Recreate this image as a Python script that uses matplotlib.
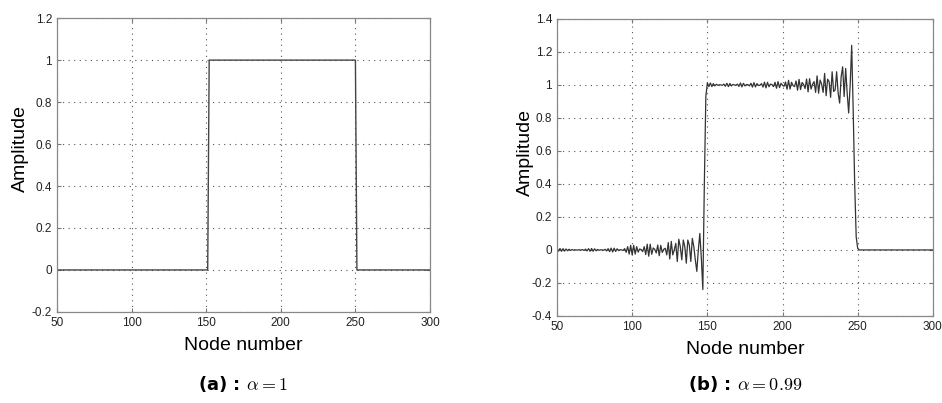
import matplotlib.pyplot as plt
from matplotlib.ticker import MultipleLocator

plt.rcParams['font.family'] = ['Liberation Sans', 'DejaVu Sans']
plt.rcParams['mathtext.fontset'] = 'cm'

# -------------------------------------------------------------------
# data
# -------------------------------------------------------------------
# (a) alpha = 1 : ideal pulse, corners only
nodes_a = [50, 151, 152, 250, 251, 300]
amp_a = [0, 0, 1, 1, 0, 0]

# (b) alpha = 0.99 : one value per node from 50 to 251, then flat to 300
nodes_b = list(range(50, 252)) + [300]
amp_b = [
    # 50-59
    0.008, -0.007, 0.009, -0.008, 0.008, -0.007, 0.006, -0.005, 0.004, -0.003,
    # 60-69
    0.002, -0.001, 0.001, -0.001, 0.000, 0.001, -0.001, 0.002, -0.003, 0.005,
    # 70-79
    -0.006, 0.008, -0.008, 0.009, -0.008, 0.007, -0.005, 0.003, -0.002, 0.001,
    # 80-89
    0.000, -0.002, 0.004, -0.006, 0.008, -0.010, 0.011, -0.012, 0.011, -0.009,
    # 90-99
    0.007, -0.004, 0.002, 0.000, -0.003, 0.008, -0.014, 0.020, -0.025, 0.028,
    # 100-109
    -0.030, 0.028, -0.025, 0.020, -0.013, 0.006, 0.002, -0.010, 0.020, -0.028,
    # 110-119
    0.035, -0.038, 0.035, -0.026, 0.012, 0.004, -0.018, 0.030, -0.035, 0.028,
    # 120-129
    -0.015, 0.004, 0.010, -0.030, 0.045, -0.055, 0.052, -0.030, 0.000, 0.040,
    # 130-139
    -0.070, 0.065, 0.020, -0.060, 0.060, 0.020, -0.080, 0.060, 0.030, -0.070,
    # 140-149
    0.070, 0.020, -0.060, -0.130, 0.000, 0.100, -0.050, -0.240, 0.400, 0.930,
    # 150-159
    1.012, 0.990, 1.012, 0.990, 1.008, 0.994, 1.004, 0.998, 1.001, 1.000,
    # 160-169
    0.998, 1.005, 0.992, 1.010, 0.990, 1.009, 0.994, 1.003, 1.000, 0.998,
    # 170-179
    1.005, 0.991, 1.012, 0.988, 1.010, 0.994, 1.002, 1.002, 0.994, 1.010,
    # 180-189
    0.987, 1.014, 0.988, 1.008, 0.997, 0.998, 1.008, 0.987, 1.017, 0.982,
    # 190-199
    1.016, 0.989, 1.005, 1.002, 0.990, 1.016, 0.980, 1.020, 0.984, 1.010,
    # 200-209
    0.998, 0.992, 1.018, 0.974, 1.028, 0.975, 1.016, 0.996, 0.990, 1.024,
    # 210-219
    0.968, 1.034, 0.972, 1.015, 1.003, 0.978, 1.036, 0.958, 1.038, 0.975,
    # 220-229
    1.005, 1.020, 0.955, 1.055, 0.950, 1.030, 1.005, 0.955, 1.070, 0.935,
    # 230-239
    1.035, 1.020, 0.925, 1.080, 0.960, 0.970, 1.080, 0.950, 0.890, 1.050,
    # 240-249
    1.110, 0.930, 1.100, 0.950, 0.830, 1.000, 1.240, 0.850, 0.400, 0.080,
    # 250-251, 300
    0.010, 0.000, 0.000,
]

x_ticks = [50, 100, 150, 200, 250, 300]
caption_a = r"(a) : $\alpha = 1$"
caption_b = r"(b) : $\alpha = 0.99$"

# -------------------------------------------------------------------
# figure
# -------------------------------------------------------------------
fig = plt.figure(figsize=(9.42, 4.03), dpi=100)
ax_a = fig.add_axes([0.0605, 0.226, 0.396, 0.729])
ax_b = fig.add_axes([0.5913, 0.216, 0.399, 0.737])


def style_axes(ax, ylim, ystep):
    ax.set_xlim(50, 300)
    ax.set_ylim(*ylim)
    ax.set_xticks(x_ticks)
    ax.yaxis.set_major_locator(MultipleLocator(ystep))
    ax.yaxis.set_major_formatter(plt.FuncFormatter(lambda v, p: f"{v:g}"))
    ax.grid(True, linestyle=(0, (1, 4)), color="#555555", linewidth=0.8)
    ax.tick_params(direction="in", top=True, right=True, labelsize=8.5,
                   length=3, color="#777777", labelcolor="#222222")
    for sp in ax.spines.values():
        sp.set_color("#888888")
        sp.set_linewidth(0.9)


ax_a.plot(nodes_a, amp_a, color="#444444", linewidth=1.0)
style_axes(ax_a, (-0.2, 1.2), 0.2)

ax_b.plot(nodes_b, amp_b, color="#333333", linewidth=0.9)
style_axes(ax_b, (-0.4, 1.4), 0.2)

# axis labels
fig.text(20 / 942, 1 - 148 / 403, "Amplitude", rotation=90, fontsize=14,
         ha="center", va="center")
fig.text(525 / 942, 1 - 153 / 403, "Amplitude", rotation=90, fontsize=14,
         ha="center", va="center")
fig.text(243 / 942, 1 - 345 / 403, "Node number", fontsize=14,
         ha="center", va="center")
fig.text(745 / 942, 1 - 349 / 403, "Node number", fontsize=14,
         ha="center", va="center")

# captions
fig.text(243 / 942, 1 - 384 / 403, caption_a, fontsize=13, fontweight="bold",
         ha="center", va="center", family="DejaVu Sans")
fig.text(745 / 942, 1 - 384 / 403, caption_b, fontsize=13, fontweight="bold",
         ha="center", va="center", family="DejaVu Sans")

fig.savefig("out.png", dpi=100)
